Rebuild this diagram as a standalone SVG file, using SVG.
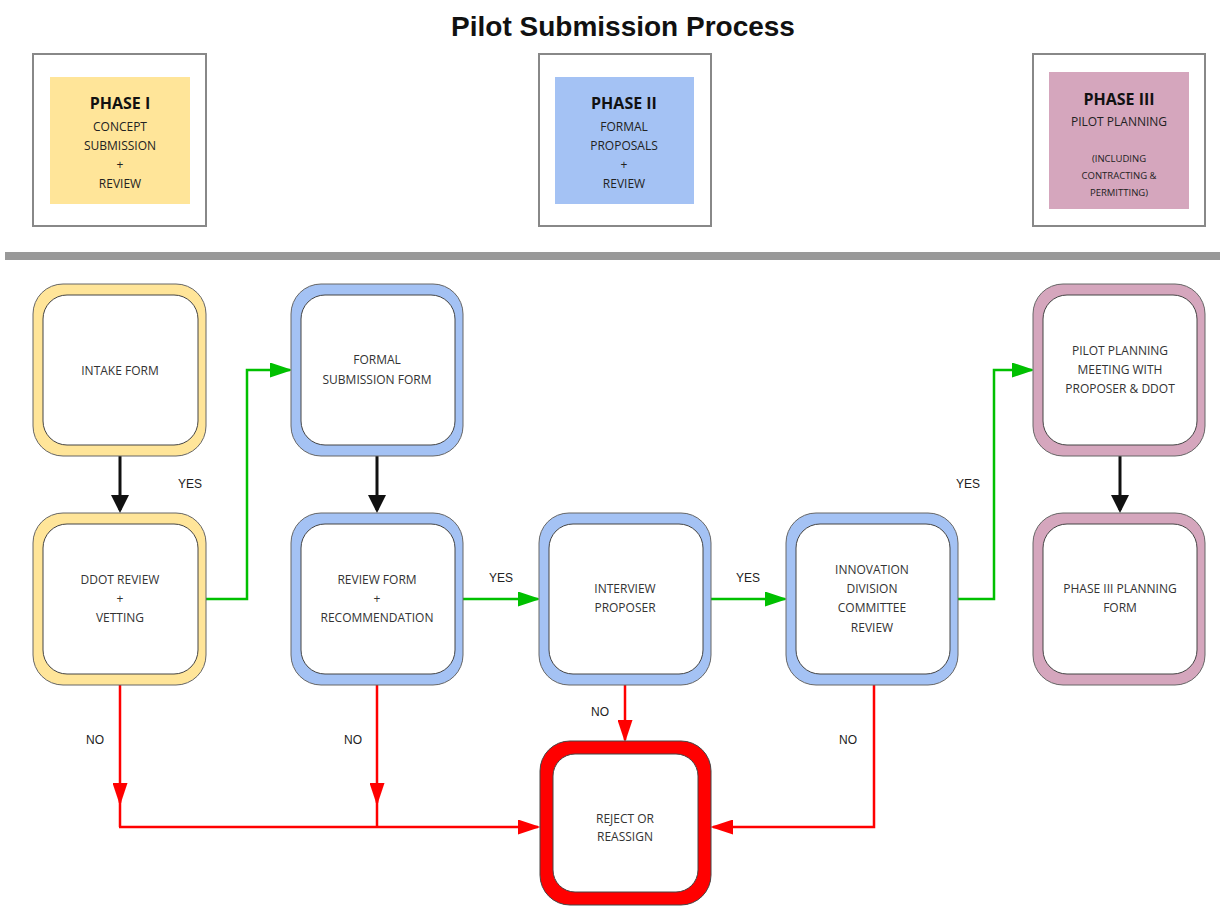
<svg xmlns="http://www.w3.org/2000/svg" width="1225" height="912" viewBox="0 0 1225 912">
<style>
.t{font-family:"Open Sans","Liberation Sans",sans-serif;font-size:12px;fill:#333;text-anchor:middle;dominant-baseline:central}
.ph{font-family:"Open Sans","Liberation Sans",sans-serif;font-size:16px;font-weight:bold;fill:#111;text-anchor:middle;dominant-baseline:central}
.ps{font-family:"Open Sans","Liberation Sans",sans-serif;font-size:12px;fill:#222;text-anchor:middle;dominant-baseline:central}
.pss{font-family:"Open Sans","Liberation Sans",sans-serif;font-size:9.5px;fill:#222;text-anchor:middle;dominant-baseline:central}
.lbl{font-family:"Liberation Sans",Arial,sans-serif;font-size:12px;fill:#222;text-anchor:middle;dominant-baseline:central}
.pbox{fill:#fff;stroke:#888;stroke-width:2}
.inner{fill:#fff;stroke:#444;stroke-width:1}
.outer{stroke:#666;stroke-width:1}
.y{fill:#ffe599}.b{fill:#a4c2f4}.m{fill:#d5a6bd}
.k{stroke:#111;stroke-width:3;fill:none}
.g{stroke:#00c000;stroke-width:2.5;fill:none}
.r{stroke:#ff0000;stroke-width:2.5;fill:none}
</style>
<defs>
<marker id="ak" markerWidth="6" markerHeight="6" refX="5" refY="3" orient="auto" markerUnits="strokeWidth"><path d="M0,0 L6,3 L0,6 Z" fill="#111"/></marker>
<marker id="ag" markerWidth="9" markerHeight="6" refX="8" refY="3" orient="auto" markerUnits="strokeWidth"><path d="M0,0 L9,3 L0,6 Z" fill="#00c000"/></marker>
<marker id="ar" markerWidth="9" markerHeight="6" refX="8" refY="3" orient="auto" markerUnits="strokeWidth"><path d="M0,0 L9,3 L0,6 Z" fill="#ff0000"/></marker>
</defs>
<rect width="1225" height="912" fill="#fff"/>
<text x="623" y="26" font-family="Liberation Sans,Arial,sans-serif" font-size="28" font-weight="bold" fill="#111" text-anchor="middle" dominant-baseline="central">Pilot Submission Process</text>

<g id="phase1">
<rect class="pbox" x="33" y="54" width="173" height="172"/>
<rect class="y" x="50" y="77" width="140" height="127"/>
<text class="ph" x="120" y="103">PHASE I</text>
<text class="ps" x="120" y="126">CONCEPT</text>
<text class="ps" x="120" y="145">SUBMISSION</text>
<text class="ps" x="120" y="164">+</text>
<text class="ps" x="120" y="183">REVIEW</text>
</g>
<g id="phase2">
<rect class="pbox" x="539" y="54" width="172" height="172"/>
<rect class="b" x="555" y="77" width="139" height="127"/>
<text class="ph" x="624" y="103">PHASE II</text>
<text class="ps" x="624" y="126">FORMAL</text>
<text class="ps" x="624" y="145">PROPOSALS</text>
<text class="ps" x="624" y="164">+</text>
<text class="ps" x="624" y="183">REVIEW</text>
</g>
<g id="phase3">
<rect class="pbox" x="1033" y="54" width="172" height="172"/>
<rect class="m" x="1049" y="72" width="140" height="137"/>
<text class="ph" x="1119" y="99">PHASE III</text>
<text class="ps" x="1119" y="121">PILOT PLANNING</text>
<text class="pss" x="1119" y="158">(INCLUDING</text>
<text class="pss" x="1119" y="175">CONTRACTING &amp;</text>
<text class="pss" x="1119" y="192">PERMITTING)</text>
</g>
<rect id="divider" x="5" y="252" width="1215" height="8" fill="#999"/>

<g id="connectors">
<line class="k" x1="120" y1="456" x2="120" y2="510" marker-end="url(#ak)"/>
<line class="k" x1="377" y1="456" x2="377" y2="510" marker-end="url(#ak)"/>
<line class="k" x1="1120" y1="456" x2="1120" y2="510" marker-end="url(#ak)"/>
<polyline class="g" points="206,599 247,599 247,370 290,370" marker-end="url(#ag)"/>
<line class="g" x1="463" y1="599" x2="538" y2="599" marker-end="url(#ag)"/>
<line class="g" x1="711" y1="599" x2="785" y2="599" marker-end="url(#ag)"/>
<polyline class="g" points="958,599 994,599 994,370 1032,370" marker-end="url(#ag)"/>
<line class="r" x1="120" y1="685" x2="120" y2="803" marker-end="url(#ar)"/>
<line class="r" x1="120" y1="800" x2="120" y2="827"/>
<line class="r" x1="377" y1="685" x2="377" y2="803" marker-end="url(#ar)"/>
<line class="r" x1="377" y1="800" x2="377" y2="827"/>
<polyline class="r" points="119,827 538,827" marker-end="url(#ar)"/>
<line class="r" x1="625" y1="685" x2="625" y2="740" marker-end="url(#ar)"/>
<polyline class="r" points="874,685 874,827 713,827" marker-end="url(#ar)"/>
<text class="lbl" x="190" y="484">YES</text>
<text class="lbl" x="501" y="578">YES</text>
<text class="lbl" x="748" y="578">YES</text>
<text class="lbl" x="968" y="484">YES</text>
<text class="lbl" x="95" y="740">NO</text>
<text class="lbl" x="353" y="740">NO</text>
<text class="lbl" x="600" y="712">NO</text>
<text class="lbl" x="848" y="740">NO</text>
</g>

<g id="intake">
<rect class="outer y" x="33" y="284" width="173" height="172" rx="30"/>
<rect class="inner" x="43" y="295" width="155" height="150" rx="24"/>
<text class="t" x="120" y="370">INTAKE FORM</text>
</g>
<g id="ddot">
<rect class="outer y" x="33" y="513" width="173" height="172" rx="30"/>
<rect class="inner" x="43" y="524" width="155" height="150" rx="24"/>
<text class="t" x="120" y="579">DDOT REVIEW</text>
<text class="t" x="120" y="598">+</text>
<text class="t" x="120" y="617">VETTING</text>
</g>
<g id="formal">
<rect class="outer b" x="291" y="284" width="172" height="172" rx="30"/>
<rect class="inner" x="301" y="295" width="154" height="150" rx="24"/>
<text class="t" x="377" y="359">FORMAL</text>
<text class="t" x="377" y="379">SUBMISSION FORM</text>
</g>
<g id="reviewform">
<rect class="outer b" x="291" y="513" width="172" height="172" rx="30"/>
<rect class="inner" x="301" y="524" width="154" height="150" rx="24"/>
<text class="t" x="377" y="579">REVIEW FORM</text>
<text class="t" x="377" y="598">+</text>
<text class="t" x="377" y="617">RECOMMENDATION</text>
</g>
<g id="interview">
<rect class="outer b" x="539" y="513" width="172" height="172" rx="30"/>
<rect class="inner" x="549" y="524" width="154" height="150" rx="24"/>
<text class="t" x="625" y="588">INTERVIEW</text>
<text class="t" x="625" y="607">PROPOSER</text>
</g>
<g id="innovation">
<rect class="outer b" x="786" y="513" width="172" height="172" rx="30"/>
<rect class="inner" x="796" y="524" width="154" height="150" rx="24"/>
<text class="t" x="872" y="569">INNOVATION</text>
<text class="t" x="872" y="588">DIVISION</text>
<text class="t" x="872" y="607">COMMITTEE</text>
<text class="t" x="872" y="627">REVIEW</text>
</g>
<g id="pilotmeeting">
<rect class="outer m" x="1033" y="284" width="172" height="172" rx="30"/>
<rect class="inner" x="1043" y="295" width="154" height="150" rx="24"/>
<text class="t" x="1120" y="350">PILOT PLANNING</text>
<text class="t" x="1120" y="369">MEETING WITH</text>
<text class="t" x="1120" y="388">PROPOSER &amp; DDOT</text>
</g>
<g id="phase3form">
<rect class="outer m" x="1033" y="513" width="172" height="172" rx="30"/>
<rect class="inner" x="1043" y="524" width="154" height="150" rx="24"/>
<text class="t" x="1120" y="588">PHASE III PLANNING</text>
<text class="t" x="1120" y="607">FORM</text>
</g>
<g id="reject">
<rect x="540" y="741" width="171" height="164" rx="30" fill="#ff0000" stroke="#444" stroke-width="1"/>
<rect class="inner" x="553" y="754" width="145" height="138" rx="22"/>
<text class="t" x="625" y="818">REJECT OR</text>
<text class="t" x="625" y="836">REASSIGN</text>
</g>
</svg>
